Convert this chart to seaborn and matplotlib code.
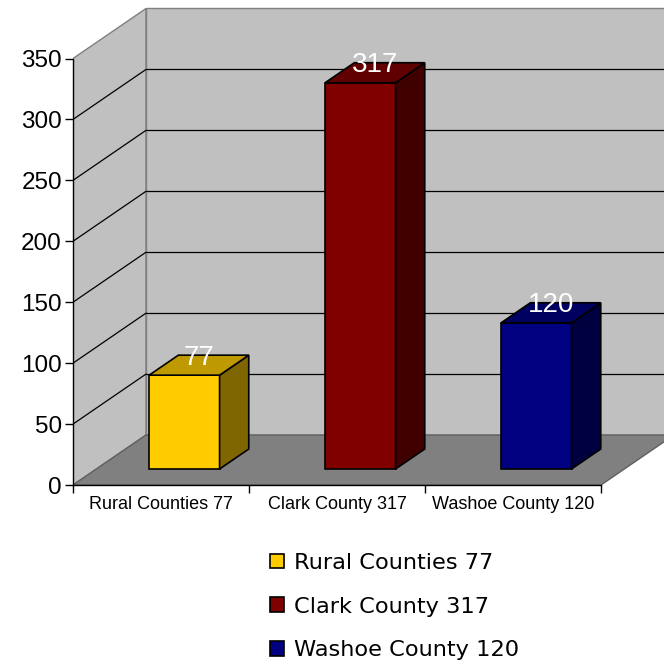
import matplotlib
matplotlib.use('Agg')
import matplotlib.pyplot as plt
import seaborn as sns
import pandas as pd
from matplotlib.patches import Polygon, Patch

# chart data
categories = ['Rural Counties 77', 'Clark County 317', 'Washoe County 120']
values = [77, 317, 120]
front_colors = ['#FFCC00', '#800000', '#000080']
side_colors = ['#806600', '#400000', '#000040']
top_colors = ['#BF9900', '#600000', '#000060']
y_ticks = [0, 50, 100, 150, 200, 250, 300, 350]

sns.set_style('white')
plt.rcParams['font.family'] = ['Liberation Sans', 'DejaVu Sans']
plt.rcParams['text.color'] = 'black'

W, H = 664, 666
fig = plt.figure(figsize=(W / 100, H / 100), dpi=100)

# pixel geometry of the pseudo-3D frame
x0_px, y0_px = 73, 485
cat_px = 176
unit_px = 426.5 / 350
ax = fig.add_axes([x0_px / W, (H - y0_px) / H, (W - x0_px) / W, y0_px / H])

xmin = -0.5
xmax = xmin + (W - x0_px) / cat_px
ymax = y0_px / unit_px
DX = 73 / cat_px          # depth offset in category units
DY = 50 / unit_px         # depth offset in value units
f0, f1 = 0.32, 0.72       # bar front / back depth fractions
top = y_ticks[-1]
ncat = len(categories)

wall = '#C0C0C0'
floor = '#808080'
edge = '#808080'

# walls
ax.add_patch(Polygon([(xmin, 0), (xmin + DX, DY), (xmin + DX, top + DY), (xmin, top)],
                     closed=True, facecolor=wall, edgecolor=edge, lw=1, zorder=0.5))
ax.add_patch(Polygon([(xmin + DX, DY), (xmax + 1, DY), (xmax + 1, top + DY), (xmin + DX, top + DY)],
                     closed=True, facecolor=wall, edgecolor=edge, lw=1, zorder=0.5))

# gridlines on side and back wall
for t in y_ticks[1:-1]:
    ax.plot([xmin, xmin + DX], [t, t + DY], color='black', lw=0.9, zorder=0.8)
    ax.plot([xmin + DX, xmax], [t + DY, t + DY], color='black', lw=0.9, zorder=0.8)

# floor
xend = xmin + ncat
ax.add_patch(Polygon([(xmin, 0), (xend, 0), (xend + DX, DY), (xmin + DX, DY)],
                     closed=True, facecolor=floor, edgecolor='#606060', lw=1, zorder=0.9))

df = pd.DataFrame({'county': categories, 'count': values})
sns.barplot(data=df, x='county', y='count', hue='county', palette=front_colors,
            saturation=1, width=0.4, dodge=False, legend=False, errorbar=None,
            edgecolor='black', linewidth=1.2, ax=ax)
bars = list(ax.patches)[-ncat:]

dd_x = (f1 - f0) * DX
dd_y = (f1 - f0) * DY
for p, v, sc, tc in zip(bars, values, side_colors, top_colors):
    p.set_x(p.get_x() + f0 * DX)
    p.set_y(f0 * DY)
    p.set_zorder(3)
    x, w, yb = p.get_x(), p.get_width(), p.get_y()
    yt = yb + v
    ax.add_patch(Polygon([(x + w, yb), (x + w + dd_x, yb + dd_y), (x + w + dd_x, yt + dd_y), (x + w, yt)],
                         closed=True, facecolor=sc, edgecolor='black', lw=1.2, zorder=3))
    ax.add_patch(Polygon([(x, yt), (x + dd_x, yt + dd_y), (x + w + dd_x, yt + dd_y), (x + w, yt)],
                         closed=True, facecolor=tc, edgecolor='black', lw=1.2, zorder=3))
    ax.text(x + w / 2 + dd_x / 2, v + f1 * DY - 2, f'{v}', color='white', fontsize=20,
            ha='center', va='center', zorder=5)

ax.set_xlim(xmin, xmax)
ax.set_ylim(0, ymax)
ax.set_facecolor('none')
ax.set_xlabel('')
ax.set_ylabel('')

for s in ['top', 'right']:
    ax.spines[s].set_visible(False)
ax.spines['left'].set_bounds(0, top)
ax.spines['bottom'].set_bounds(xmin, xend)
for s in ['left', 'bottom']:
    ax.spines[s].set_color('black')
    ax.spines[s].set_linewidth(1)
    ax.spines[s].set_zorder(4)

ax.set_yticks(y_ticks)
ax.tick_params(axis='y', left=True, length=6, width=1, color='black', pad=2,
               labelsize=17.5, labelcolor='black')
ax.set_xticks(range(ncat))
ax.set_xticklabels(categories)
ax.set_xticks([xmin + i for i in range(ncat + 1)], minor=True)
ax.tick_params(axis='x', which='major', bottom=True, length=0, pad=8, labelsize=13,
               labelcolor='black')
ax.tick_params(axis='x', which='minor', bottom=True, length=6, width=1, color='black')

handles = [Patch(facecolor=c, edgecolor='black', lw=1.2) for c in front_colors]
fig.legend(handles, categories, loc='upper left', bbox_to_anchor=(270 / W, 1 - 553 / H),
           frameon=False, prop={'family': 'DejaVu Sans', 'size': 16.2}, labelcolor='black',
           handlelength=0.63, handleheight=0.63, handletextpad=0.43,
           labelspacing=1.05, borderpad=0, borderaxespad=0)

fig.savefig('out.png', dpi=100)
